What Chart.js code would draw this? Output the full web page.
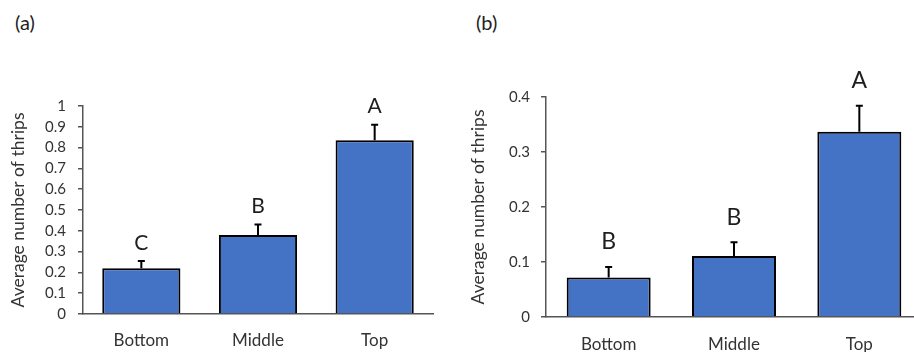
<!DOCTYPE html>
<html>
<head>
<meta charset="utf-8">
<script src="https://cdn.jsdelivr.net/npm/chart.js@4.4.1/dist/chart.umd.min.js"></script>
<style>
  html, body { margin: 0; padding: 0; background: #fff; }
  body { width: 914px; height: 352px; overflow: hidden; position: relative; }
  canvas { position: absolute; top: 0; }
  .panel-label { position: absolute; top: 10px; font: 20px Lato, "Open Sans", sans-serif; color: #222; }
</style>
</head>
<body>
<div class="panel-label" style="left:15px">(a)</div>
<div class="panel-label" style="left:476px">(b)</div>
<canvas id="chartA" width="450" height="352" style="left:0"></canvas>
<canvas id="chartB" width="470" height="352" style="left:460px"></canvas>
<script>
// Plant strata
const categories = ['Bottom', 'Middle', 'Top'];

// Panel (a): mean thrips per stratum, standard errors, significance letters
const meansA = [0.22, 0.38, 0.835];
const errorsA = [0.035, 0.05, 0.075];
const lettersA = ['C', 'B', 'A'];

// Panel (b)
const meansB = [0.072, 0.111, 0.337];
const errorsB = [0.019, 0.025, 0.047];
const lettersB = ['B', 'B', 'A'];

const FONT = 'Lato, "Open Sans", sans-serif';
const TEXT = '#333333';
const AXIS = '#555555';

// Draws the upper error whisker and the letter above each bar
const errorBarPlugin = {
  id: 'errorBars',
  afterDatasetsDraw(chart, args, opts) {
    const { ctx } = chart;
    const yScale = chart.scales.y;
    const meta = chart.getDatasetMeta(0);
    const values = chart.data.datasets[0].data;
    ctx.save();
    meta.data.forEach((bar, i) => {
      const topPx = yScale.getPixelForValue(values[i] + opts.errors[i]);
      ctx.strokeStyle = '#000';
      ctx.lineWidth = 2;
      ctx.beginPath();
      ctx.moveTo(bar.x, bar.y);
      ctx.lineTo(bar.x, topPx);
      ctx.moveTo(bar.x - 3.5, topPx);
      ctx.lineTo(bar.x + 3.5, topPx);
      ctx.stroke();
      ctx.fillStyle = '#1e1e1e';
      ctx.font = opts.letterSize + 'px ' + FONT;
      ctx.textAlign = 'center';
      ctx.textBaseline = 'middle';
      ctx.fillText(opts.letters[i], bar.x, topPx - opts.gap);
    });
    ctx.restore();
  }
};

function makeChart(id, values, errors, letters, cfg) {
  return new Chart(document.getElementById(id), {
    type: 'bar',
    data: {
      labels: categories,
      datasets: [{
        data: values,
        backgroundColor: '#4472C4',
        borderColor: '#000000',
        borderWidth: 2,
        borderSkipped: 'bottom',
        barPercentage: 1,
        categoryPercentage: 0.67
      }]
    },
    options: {
      responsive: false,
      animation: false,
      devicePixelRatio: 1,
      layout: { padding: { top: cfg.padTop, right: cfg.padRight, left: 0, bottom: 0 } },
      plugins: {
        legend: { display: false },
        tooltip: { enabled: false },
        errorBars: { errors: errors, letters: letters, gap: cfg.gap, letterSize: cfg.letterSize }
      },
      scales: {
        x: {
          afterFit(scale) { scale.height = cfg.xHeight; },
          grid: { display: true, drawOnChartArea: false, drawTicks: false },
          border: { display: true, color: AXIS, width: 1.5 },
          ticks: { color: TEXT, padding: cfg.xPad, font: { family: FONT, size: 17 } }
        },
        y: {
          min: 0,
          max: cfg.max,
          afterFit(scale) { scale.width = cfg.yWidth; },
          grid: { display: true, drawOnChartArea: false, drawTicks: true, tickLength: 5, color: AXIS, lineWidth: 1.5 },
          border: { display: true, color: AXIS, width: 1.5 },
          ticks: {
            stepSize: cfg.step,
            autoSkip: false,
            color: TEXT,
            padding: cfg.yPad,
            font: { family: FONT, size: 15 },
            callback: v => Number(v.toFixed(2)).toString()
          },
          title: {
            display: true,
            text: 'Average number of thrips',
            color: TEXT,
            font: { family: FONT, size: 17.5 },
            padding: { top: 8, bottom: 0 }
          }
        }
      }
    },
    plugins: [errorBarPlugin]
  });
}

makeChart('chartA', meansA, errorsA, lettersA, {
  max: 1, step: 0.1, padTop: 106, padRight: 17, xHeight: 38, yWidth: 83,
  xPad: 16, yPad: 12, gap: 18, letterSize: 21
});

makeChart('chartB', meansB, errorsB, lettersB, {
  max: 0.4, step: 0.1, padTop: 97, padRight: 8, xHeight: 35, yWidth: 86,
  xPad: 17, yPad: 11, gap: 25, letterSize: 23
});
</script>
</body>
</html>
